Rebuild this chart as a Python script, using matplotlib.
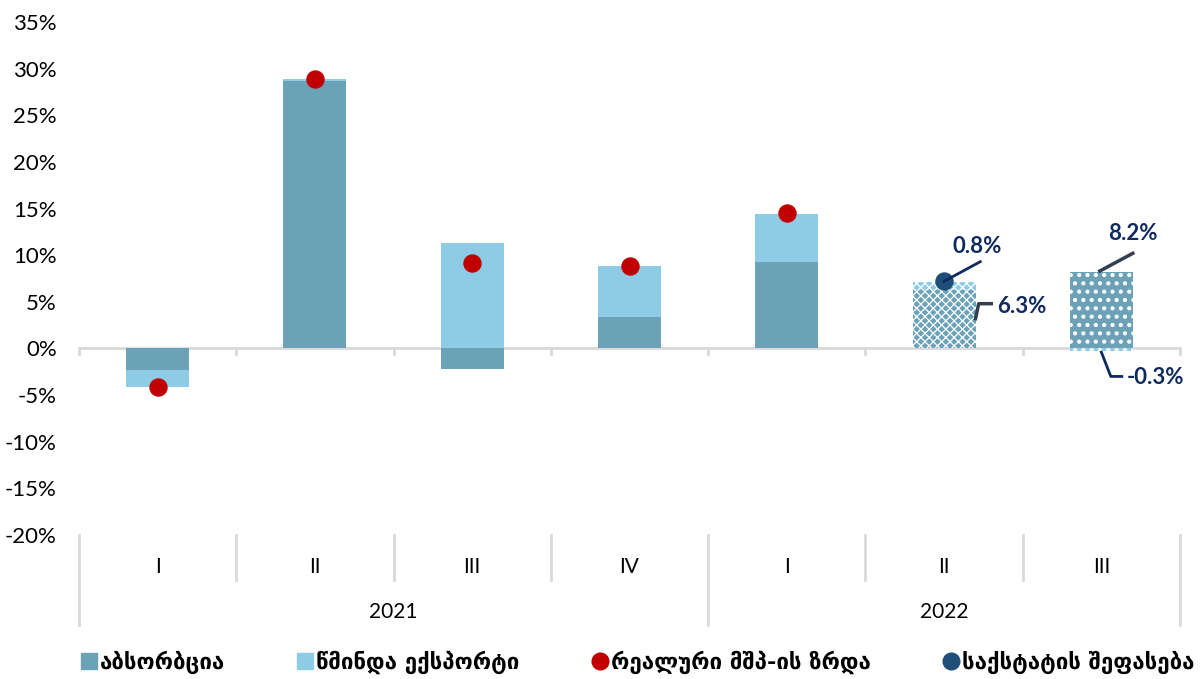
import matplotlib.pyplot as plt
from matplotlib.lines import Line2D
import numpy as np

plt.rcParams['font.family'] = ['Lato', 'DejaVu Sans']

# data
quarters = ['I', 'II', 'III', 'IV', 'I', 'II', 'III']
years = ['2021', '2022']
absorption = [-2.3, 28.7, -2.2, 3.4, 9.3]
net_export = [-1.8, 0.2, 11.3, 5.4, 5.1]
gdp_growth = [-4.1, 28.9, 9.2, 8.8, 14.5]
geostat_est = 7.2  # 2022 II
est_q2 = [6.3, 0.8]    # 2022 II: base, addition
est_q3 = [8.2, -0.3]   # 2022 III: positive, negative
yticks = np.arange(-20, 36, 5)

teal = '#6BA2B7'
light = '#8DCCE4'
red = '#C00000'
navy = '#1F4E79'
lab_c = '#0F2A5E'
grid_c = '#D9D9D9'

fig = plt.figure(figsize=(12.02, 6.79), dpi=100)
ax = fig.add_axes([79 / 1202, 144 / 679, 1101 / 1202, 513 / 679])

n = len(quarters)
x = np.arange(n)
w = 0.4

# actual quarters: stacked with positive / negative separation
for i in range(len(absorption)):
    a, e = absorption[i], net_export[i]
    ax.bar(i, a, w, color=teal, zorder=2)
    if (a >= 0) == (e >= 0):
        ax.bar(i, e, w, bottom=a, color=light, zorder=2)
    else:
        ax.bar(i, e, w, color=light, zorder=2)

ax.scatter(x[:len(gdp_growth)], gdp_growth, s=150, color=red, zorder=4)

# estimates / forecasts
with plt.rc_context({'hatch.linewidth': 0.9}):
    ax.bar(5, est_q2[0], w, color=teal, hatch='xxxx', edgecolor='white', lw=0, zorder=2)
    ax.bar(5, est_q2[1], w, bottom=est_q2[0], color=light, hatch='xxxx', edgecolor='white', lw=0, zorder=2)
with plt.rc_context({'hatch.linewidth': 1.8}):
    ax.bar(6, est_q3[0], w, color=teal, hatch='..', edgecolor='white', lw=0, zorder=2)
    ax.bar(6, est_q3[1], w, color=light, hatch='..', edgecolor='white', lw=0, zorder=2)
ax.scatter([5], [geostat_est], s=150, color=navy, zorder=4)

# labels with leader lines
ax.plot([5, 5.23], [geostat_est, 9.3], color=lab_c, lw=2, zorder=5)
ax.text(5.21, 10.9, '0.8%', color=lab_c, fontsize=16, fontweight='bold', ha='center', va='center')
ax.plot([5.2, 5.22, 5.3], [3.2, 4.8, 4.8], color='#333F50', lw=2.5, zorder=5)
ax.text(5.34, 4.5, '6.3%', color=lab_c, fontsize=16, fontweight='bold', ha='left', va='center')
ax.plot([5.99, 6.2], [8.3, 10.2], color='#333F50', lw=2.5, zorder=5)
ax.text(6.2, 12.3, '8.2%', color=lab_c, fontsize=16, fontweight='bold', ha='center', va='center')
ax.plot([6.0, 6.06, 6.13], [-0.4, -3.0, -3.0], color=lab_c, lw=2, zorder=5)
ax.text(6.16, -3.1, '-0.3%', color=lab_c, fontsize=16, fontweight='bold', ha='left', va='center')

ax.set_xlim(-0.5, n - 0.5)
ax.set_ylim(-20, 35)
ax.set_yticks(yticks)
ax.set_yticklabels([f'{v}%' for v in yticks], fontsize=16)
ax.tick_params(axis='y', length=0, pad=16)
ax.set_xticks([])
for s in ax.spines.values():
    s.set_visible(False)

# zero line with small ticks
ax.axhline(0, color=grid_c, lw=2, zorder=1)
for b in np.arange(n + 1) - 0.5:
    ax.plot([b, b], [0, -0.6], color=grid_c, lw=2, clip_on=False, zorder=1)

# category axis below plot
tr = ax.get_xaxis_transform()
for b in np.arange(n + 1) - 0.5:
    bottom = -0.175 if b in (-0.5, 3.5, n - 0.5) else -0.088
    ax.plot([b, b], [0, bottom], color=grid_c, lw=2, transform=tr, clip_on=False)
for i, q in enumerate(quarters):
    ax.text(i, -0.062, q, transform=tr, ha='center', va='center', fontsize=15)
ax.text(1.5, -0.15, years[0], transform=tr, ha='center', va='center', fontsize=15)
ax.text(5.0, -0.15, years[1], transform=tr, ha='center', va='center', fontsize=15)

handles = [
    Line2D([], [], marker='s', ls='', color=teal, markersize=12),
    Line2D([], [], marker='s', ls='', color=light, markersize=12),
    Line2D([], [], marker='o', ls='', color=red, markersize=12),
    Line2D([], [], marker='o', ls='', color=navy, markersize=12),
]
names = ['აბსორბცია', 'წმინდა ექსპორტი', 'რეალური მშპ-ის ზრდა', 'საქსტატის შეფასება']
fig.legend(handles, names, loc='center', bbox_to_anchor=(0.53, 0.024), ncol=4, frameon=False,
           prop={'family': 'DejaVu Sans', 'weight': 'bold', 'size': 16},
           handletextpad=0.1, columnspacing=3.2, handlelength=0.8)

fig.savefig('out.png', dpi=100)
